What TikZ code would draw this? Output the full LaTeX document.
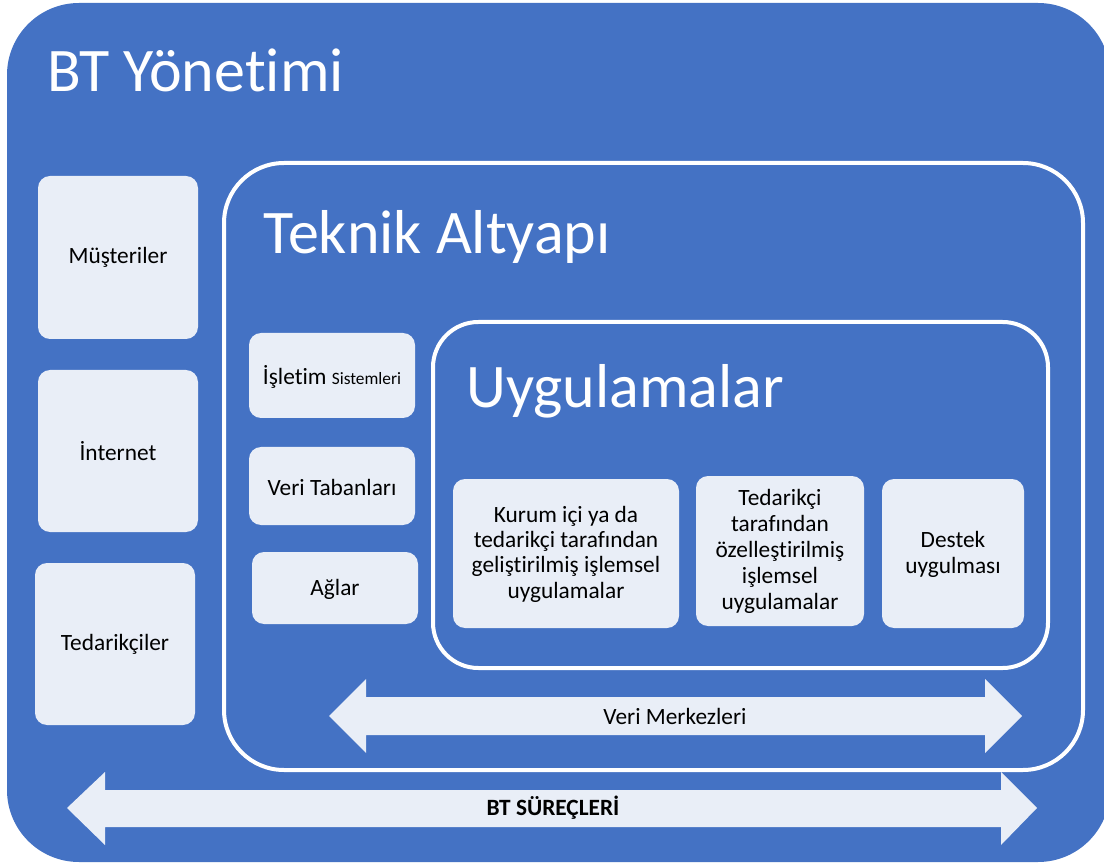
\documentclass[tikz,border=0pt]{standalone}
\usepackage{fontspec}
\setmainfont{Carlito}[Ligatures=NoCommon]
\definecolor{bgblue}{HTML}{4472C4}
\definecolor{paleb}{HTML}{E9EEF7}

\begin{document}
\begin{tikzpicture}[x=0.75pt,y=-0.75pt,
  card/.style={fill=paleb, rounded corners=9pt},
  lbl/.style={font=\fontsize{17.5}{19.5}\selectfont, align=center, text=black},
  tight/.style={font=\fontsize{17.5}{19}\selectfont},
  title/.style={font=\fontsize{46.5}{54}\selectfont, text=white, anchor=base west, inner sep=0pt},
  frame/.style={draw=white, line width=3pt, fill=bgblue},
  band/.style={fill=paleb}]
\useasboundingbox (0,0) rectangle (1104,866);
\clip (0,0) rectangle (1104,866);
\fill[white] (0,0) rectangle (1104,866);

% outer area: BT management
\fill[bgblue, rounded corners=54pt] (7,3) rectangle (1110,862);
\node[title] (ttlbt) at (47,92) {BT Yönetimi};

% left column
\fill[card] (38,176) rectangle (198,339);
\node[lbl] (musteri) at (118,257) {Müşteriler};
\fill[card] (38,370) rectangle (198,532);
\node[lbl] (internet) at (118,451) {İnternet};
\fill[card] (35,563) rectangle (195,725);
\node[lbl] (tedarik) at (115,644) {Tedarikçiler};

% technical infrastructure frame
\filldraw[frame, rounded corners=45pt] (224,163) rectangle (1083,770);
\node[title] (ttltek) at (263,254) {Teknik Altyapı};

\fill[card] (249,333) rectangle (415,418);
\node[lbl] (isletim) at (332,377) {İşletim {\fontsize{13}{15}\selectfont Sistemleri}};
\fill[card] (249,447) rectangle (415,525);
\node[lbl] (veritab) at (332,487) {Veri Tabanları};
\fill[card] (252,552) rectangle (418,624);
\node[lbl] (aglar) at (335,589) {Ağlar};

% applications frame
\filldraw[frame, rounded corners=34pt] (433,322) rectangle (1048,668);
\node[title] (ttluyg) at (466,407) {Uygulamalar};

\fill[card] (453,479) rectangle (679,628);
\node[lbl, tight] (kurum) at (566,554) {Kurum içi ya da\\tedarikçi tarafından\\geliştirilmiş işlemsel\\uygulamalar};
\fill[card] (696,476) rectangle (864,626);
\node[lbl] (ozel) at (780,551) {Tedarikçi\\tarafından\\özelleştirilmiş\\işlemsel\\uygulamalar};
\fill[card] (882,479) rectangle (1024,628);
\node[lbl] (destek) at (953,554) {Destek\\uygulması};

% data centres double arrow
\fill[band] (329,716) -- (366,679) -- (366,697) -- (985,697) -- (985,679)
  -- (1022,716) -- (985,753) -- (985,735) -- (366,735) -- (366,753) -- cycle;
\node[lbl] (merkez) at (675,716) {Veri Merkezleri};

% IT processes double arrow
\fill[band] (67,808) -- (105,772) -- (105,790) -- (1001,790) -- (1001,772)
  -- (1037,808) -- (1001,845) -- (1001,827) -- (105,827) -- (105,845) -- cycle;
\node[lbl, font=\fontsize{17.5}{19.5}\selectfont\bfseries] (surec) at (553,808) {BT SÜREÇLERİ};
\end{tikzpicture}
\end{document}
